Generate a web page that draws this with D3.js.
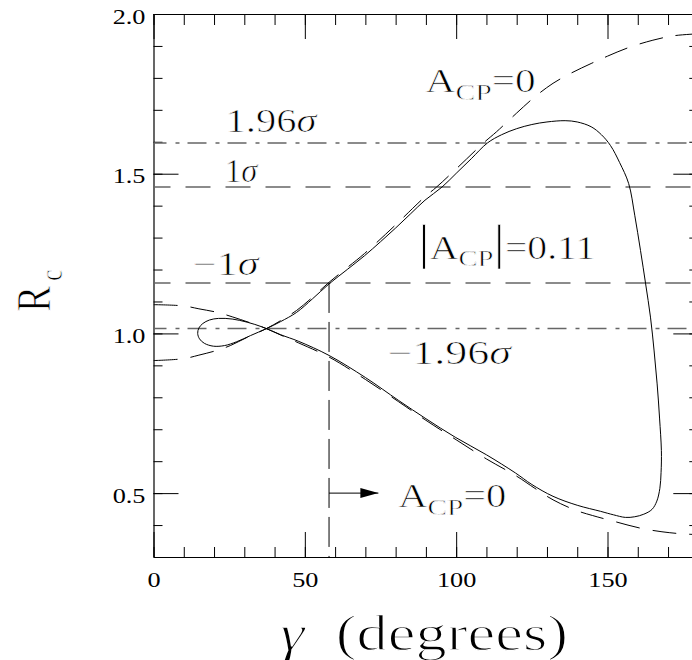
<!DOCTYPE html>
<html>
<head>
<meta charset="utf-8">
<script src="https://cdn.jsdelivr.net/npm/d3@7"></script>
<style>
  body { margin: 0; background: #fff; }
  svg text { font-family: "Liberation Serif", "Times New Roman", serif; fill: #000; }
  svg text.thin { stroke: #fff; stroke-width: 0.7px; }
  svg text.title { stroke: #fff; stroke-width: 1.3px; }
</style>
</head>
<body>
<svg id="chart" width="692" height="660"></svg>
<script>
// values: gamma in degrees, R_c
const gammaMajor = [0, 50, 100, 150];
const gammaMinor = d3.range(0, 181, 10);
const rMajor = [0.5, 1.0, 1.5, 2.0];
const rMinor = d3.range(3, 21).map((d) => d / 10);

// A_CP = 0 curve, two branches (dashed)
const acpZeroUp = [
  [0, 0.915], [10, 0.921], [15, 0.932], [21, 0.947], [25.4, 0.962], [31, 0.988],
  [37.3, 1.015], [42, 1.04], [47.3, 1.072], [52.5, 1.113], [58, 1.16], [64, 1.206],
  [69.7, 1.25], [80, 1.34], [89.7, 1.428], [93.5, 1.458], [100, 1.515], [109, 1.596],
  [113.3, 1.631], [120, 1.69], [125.9, 1.74], [132, 1.783], [138, 1.815],
  [144.6, 1.845], [150, 1.868], [157, 1.895], [165, 1.918], [172, 1.932], [180, 1.938],
];
const acpZeroDown = [
  [0, 1.09], [10, 1.086], [15, 1.077], [21, 1.066], [26, 1.052], [32, 1.033],
  [37.3, 1.015], [42, 0.995], [48, 0.97], [58, 0.926], [70, 0.856], [81, 0.786],
  [90, 0.728], [100, 0.667], [110, 0.607], [120, 0.553], [126, 0.515], [132, 0.479],
  [139.6, 0.446], [145, 0.43], [152, 0.412], [161, 0.39], [168, 0.379], [174, 0.373],
  [180, 0.37],
];

// |A_CP| = 0.11 contour (solid, closed, crosses itself near gamma = 37)
const acpLoop = [
  [37.3, 1.015], [42, 1.037], [47.3, 1.066], [52.5, 1.108], [58, 1.155], [64, 1.2],
  [69.7, 1.243], [75, 1.287], [80, 1.33], [85, 1.375], [89.7, 1.417], [95.3, 1.458],
  [100, 1.501], [105, 1.547], [110.3, 1.596], [115, 1.622], [120, 1.641], [125, 1.654],
  [130, 1.662], [136, 1.666], [140, 1.662], [144.6, 1.647], [148, 1.622], [151, 1.588],
  [154, 1.535], [157, 1.469], [159, 1.37], [160.9, 1.26], [162.6, 1.155], [164.2, 1.051],
  [165.4, 0.945], [166.4, 0.842], [167.2, 0.735], [167.8, 0.633], [167.7, 0.565],
  [167.3, 0.515], [166.3, 0.475], [164.7, 0.449], [162, 0.434], [159, 0.426],
  [155.9, 0.424], [152, 0.432], [147.7, 0.443], [140, 0.462], [132, 0.49], [125, 0.527],
  [119.6, 0.563], [110, 0.62], [99.7, 0.675], [90, 0.733], [81, 0.79], [70, 0.862],
  [58, 0.931], [48, 0.975], [42, 0.996], [36, 1.02], [31, 1.035], [26, 1.045],
  [21.5, 1.047], [18.5, 1.042], [16.3, 1.031], [15, 1.017], [14.6, 1.0], [15.2, 0.983],
  [16.8, 0.969], [19.8, 0.96], [23.5, 0.962], [27.5, 0.974], [32, 0.993],
];

// measured R_c band
const sigmaLevels = [1.596, 1.458, 1.158, 1.015];
const sigmaLabels = ["1.96σ", "1σ", "−1σ", "−1.96σ"];

// gamma bound marker
const gammaBound = 58;
const arrowEnd = 74.3;
const arrowR = 0.5;

const svg = d3.select("#chart");
const margin = { top: 14, left: 153.5 };
const plotW = 544.8;
const plotH = 543;

const x = d3.scaleLinear().domain([0, 180]).range([margin.left, margin.left + plotW]);
const y = d3.scaleLinear().domain([0.3, 2.0]).range([margin.top + plotH, margin.top]);

svg.append("defs").append("clipPath").attr("id", "plot")
  .append("rect")
  .attr("x", x(0)).attr("y", y(2.0))
  .attr("width", plotW).attr("height", plotH);

svg.append("defs").append("marker")
  .attr("id", "head")
  .attr("markerUnits", "userSpaceOnUse")
  .attr("markerWidth", 20).attr("markerHeight", 12)
  .attr("refX", 18).attr("refY", 5)
  .attr("orient", "auto")
  .append("path")
  .attr("d", "M0,0L18,5L0,10Z")
  .attr("fill", "#000");

// axes: ticks point inward on all four sides
const TEXT_K = 1.25;
function drawAxis(axis, at, values, size, fmt) {
  const g = svg.append("g")
    .attr("transform", at)
    .call(axis.tickValues(values).tickSizeInner(-size).tickSizeOuter(0)
      .tickPadding(fmt ? 0 : 3).tickFormat(fmt || ""));
  g.attr("font-size", 21).attr("font-family", null);
  g.selectAll(".tick line").attr("stroke-width", 1);
  return g;
}

const xBottom = `translate(0,${y(0.3)})`;
const xTop = `translate(0,${y(2.0)})`;
const yLeft = `translate(${x(0)},0)`;
const yRight = `translate(${x(180)},0)`;

[
  drawAxis(d3.axisBottom(x), xBottom, gammaMinor, 10),
  drawAxis(d3.axisTop(x), xTop, gammaMinor, 11),
  drawAxis(d3.axisLeft(y), yLeft, rMinor, 9),
  drawAxis(d3.axisRight(y), yRight, rMinor, 9),
].forEach((g) => g.select(".domain").remove());

const bottomAxis = drawAxis(d3.axisBottom(x), xBottom, gammaMajor, 25, d3.format("d"));
bottomAxis.selectAll(".tick text")
  .attr("y", 0).attr("dy", null)
  .attr("transform", `translate(0,30) scale(${TEXT_K},1)`)
  .attr("text-anchor", "middle");

const leftAxis = drawAxis(d3.axisLeft(y), yLeft, rMajor, 25, d3.format(".1f"));
leftAxis.selectAll(".tick text")
  .attr("x", 0).attr("dy", null)
  .attr("transform", `translate(-8,9) scale(${TEXT_K},1)`)
  .attr("text-anchor", "end");

drawAxis(d3.axisTop(x), xTop, gammaMajor, 25);
drawAxis(d3.axisRight(y), yRight, rMajor, 25);

svg.selectAll(".domain").attr("stroke-width", 1.2);

// plot content
const plot = svg.append("g").attr("clip-path", "url(#plot)");

plot.selectAll(".sigma")
  .data(sigmaLevels)
  .join("line")
  .attr("class", "sigma")
  .attr("x1", x(0)).attr("x2", x(180))
  .attr("y1", (d) => y(d)).attr("y2", (d) => y(d))
  .attr("stroke", "#666")
  .attr("stroke-width", 1.5)
  .attr("stroke-dasharray", (d, i) =>
    sigmaLabels[i].includes("1.96") ? "19,9,4,8" : "25,15")
  .attr("stroke-dashoffset", (d, i) => (sigmaLabels[i].includes("1.96") ? 6 : -32));

const line = d3.line()
  .x((d) => x(d[0]))
  .y((d) => y(d[1]))
  .curve(d3.curveCatmullRom.alpha(0.5));

plot.selectAll(".acp0")
  .data([acpZeroUp, acpZeroDown])
  .join("path")
  .attr("class", "acp0")
  .attr("d", line)
  .attr("fill", "none")
  .attr("stroke", "#000")
  .attr("stroke-width", 1)
  .attr("stroke-dasharray", "24,13");

const loopLine = d3.line()
  .x((d) => x(d[0]))
  .y((d) => y(d[1]))
  .curve(d3.curveCatmullRomClosed.alpha(0.5));

plot.append("path")
  .datum(acpLoop)
  .attr("d", loopLine)
  .attr("fill", "none")
  .attr("stroke", "#000")
  .attr("stroke-width", 1);

plot.append("line")
  .attr("x1", x(gammaBound)).attr("x2", x(gammaBound))
  .attr("y1", y(sigmaLevels[2])).attr("y2", y(0.3))
  .attr("stroke", "#000")
  .attr("stroke-width", 1)
  .attr("stroke-dasharray", "30,9");

plot.append("line")
  .attr("x1", x(gammaBound)).attr("x2", x(arrowEnd))
  .attr("y1", y(arrowR)).attr("y2", y(arrowR))
  .attr("stroke", "#000")
  .attr("stroke-width", 1)
  .attr("marker-end", "url(#head)");

// labels: parts are [text, kind]
function richText(parent, parts, size, cls) {
  const t = parent.append("text").attr("class", cls).attr("font-size", size);
  let shift = 0;
  parts.forEach(([s, kind]) => {
    let target = 0;
    let fs = size;
    if (kind === "sub") { target = size * 0.23; fs = size * 0.72; }
    if (kind === "bar") { fs = size * 1.45; }
    const sp = t.append("tspan").text(s).attr("font-size", fs).attr("dy", target - shift);
    if (kind === "it") sp.attr("font-style", "italic");
    shift = target;
  });
  return t;
}

function fitLabel(parts, size, px, py, width, cls = "thin") {
  const g = svg.append("g");
  const t = richText(g, parts, size, cls);
  const b = t.node().getBBox();
  const k = width / b.width;
  g.attr("transform", `translate(${px - b.x * k},${py}) scale(${k},1)`);
}

const sigmaParts = sigmaLabels.map((s) => [[s.slice(0, -1)], ["σ", "it"]]);
const annotations = [
  { parts: sigmaParts[0], at: [23.8, 1.631], w: 93 },
  { parts: sigmaParts[1], at: [23.6, 1.474], w: 34 },
  { parts: sigmaParts[2], at: [13.0, 1.182], w: 68 },
  { parts: sigmaParts[3], at: [77.3, 0.905], w: 126 },
  { parts: [["A"], ["CP", "sub"], ["=0"]], at: [89.9, 1.756], w: 110 },
  { parts: [["|", "bar"], ["A"], ["CP", "sub"], ["|", "bar"], ["=0.11"]], at: [87.5, 1.234], w: 177 },
  { parts: [["A"], ["CP", "sub"], ["=0"]], at: [80.9, 0.455], w: 108 },
];
annotations.forEach((a) => fitLabel(a.parts, 33, x(a.at[0]), y(a.at[1]), a.w));

// axis titles
fitLabel([["γ", "it"], ["\u00a0\u00a0(degrees)"]], 50, 280, 650, 288, "title");

const rLabel = svg.append("g")
  .attr("transform", `translate(49.5,312) scale(${TEXT_K},1) rotate(-90)`)
  .append("text")
  .attr("class", "thin")
  .attr("font-size", 39);
rLabel.append("tspan").text("R");
rLabel.append("tspan").text("c").attr("font-size", 26).attr("dx", 5).attr("dy", 10);
</script>
</body>
</html>
